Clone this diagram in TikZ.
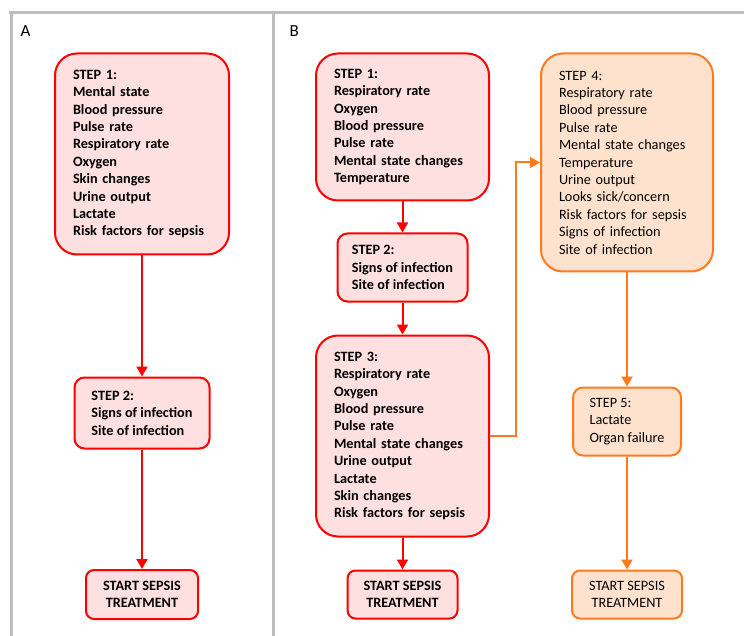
\documentclass[tikz,border=0pt]{standalone}
\usepackage{fontspec}
\setmainfont{Carlito}
\usetikzlibrary{arrows.meta}

\definecolor{redline}{RGB}{255,0,0}
\definecolor{redfill}{RGB}{255,224,224}
\definecolor{orangeline}{RGB}{255,122,28}
\definecolor{orangefill}{RGB}{255,226,206}
\definecolor{framegray}{RGB}{190,190,190}

\begin{document}
\begin{tikzpicture}[x=1pt, y=-1pt,
	every node/.style={font=\fontsize{14.25}{17.4}\selectfont},
	redbox/.style={draw=redline, fill=redfill, line width=2pt, font=\fontsize{14.25}{17.4}\selectfont\bfseries, align=left},
	orangebox/.style={draw=orangeline, fill=orangefill, line width=2pt, align=left},
	bigstep/.style={rounded corners=22pt, inner xsep=18pt},
	smallstep/.style={rounded corners=10pt, inner xsep=0pt},
	startbox/.style={rounded corners=8pt, align=center, inner xsep=0pt},
	redarrow/.style={draw=redline, line width=2pt, -{Triangle[length=10pt, width=11pt]}},
	orangearrow/.style={draw=orangeline, line width=2pt, -{Triangle[length=10pt, width=11pt]}}]
	\useasboundingbox (0, 0) rectangle (744, 636);

	% frame
	\draw[framegray, line width=3pt] (9, 13) -- (744, 13);
	\draw[framegray, line width=3pt] (11, 13) -- (11, 636);
	\draw[framegray, line width=3pt] (273, 13) -- (273, 636);
	\node[anchor=west, font=\fontsize{17}{20}\selectfont] (labelA) at (17, 31) {A};
	\node[anchor=west, font=\fontsize{17}{20}\selectfont] (labelB) at (286, 31) {B};

	% panel A
	\node[redbox, bigstep, minimum width=174pt, minimum height=201pt, text width=138pt] (a1) at (142, 154)
		{STEP 1:\\Mental state\\Blood pressure\\Pulse rate\\Respiratory rate\\Oxygen\\Skin changes\\Urine output\\Lactate\\Risk factors for sepsis};
	\node[redbox, smallstep, minimum width=135pt, minimum height=71pt] (a2) at (142, 413)
		{STEP 2:\\Signs of infection\\Site of infection};
	\node[redbox, startbox, minimum width=112pt, minimum height=49pt] (astart) at (142, 594.5)
		{START SEPSIS\\TREATMENT};
	\draw[redarrow] (a1) -- (a2);
	\draw[redarrow] (a2) -- (astart);

	% panel B
	\node[redbox, bigstep, minimum width=173pt, minimum height=147pt, text width=137pt] (b1) at (402.5, 127)
		{STEP 1:\\Respiratory rate\\Oxygen\\Blood pressure\\Pulse rate\\Mental state changes\\Temperature};
	\node[redbox, smallstep, minimum width=130pt, minimum height=68pt] (b2) at (402.5, 267.5)
		{STEP 2:\\Signs of infection\\Site of infection};
	\node[redbox, bigstep, minimum width=173pt, minimum height=201pt, text width=137pt] (b3) at (402.5, 436)
		{STEP 3:\\Respiratory rate\\Oxygen\\Blood pressure\\Pulse rate\\Mental state changes\\Urine output\\Lactate\\Skin changes\\Risk factors for sepsis};
	\node[redbox, startbox, minimum width=110pt, minimum height=48pt] (bstart) at (402.5, 594.5)
		{START SEPSIS\\TREATMENT};
	\draw[redarrow] (b1) -- (b2);
	\draw[redarrow] (b2) -- (b3);
	\draw[redarrow] (b3) -- (bstart);

	\node[orangebox, bigstep, minimum width=172pt, minimum height=218pt, text width=136pt] (b4) at (627, 162.5)
		{STEP 4:\\Respiratory rate\\Blood pressure\\Pulse rate\\Mental state changes\\Temperature\\Urine output\\Looks sick/concern\\Risk factors for sepsis\\Signs of infection\\Site of infection};
	\node[orangebox, smallstep, minimum width=108pt, minimum height=68pt] (b5) at (627, 421.5)
		{STEP 5:\\Lactate\\Organ failure};
	\node[orangebox, startbox, minimum width=110pt, minimum height=48pt] (ostart) at (627, 594.5)
		{START SEPSIS\\TREATMENT};
	\draw[orangearrow] (b3.east) -- ++(26, 0) |- (b4.west);
	\draw[orangearrow] (b4) -- (b5);
	\draw[orangearrow] (b5) -- (ostart);
\end{tikzpicture}
\end{document}
